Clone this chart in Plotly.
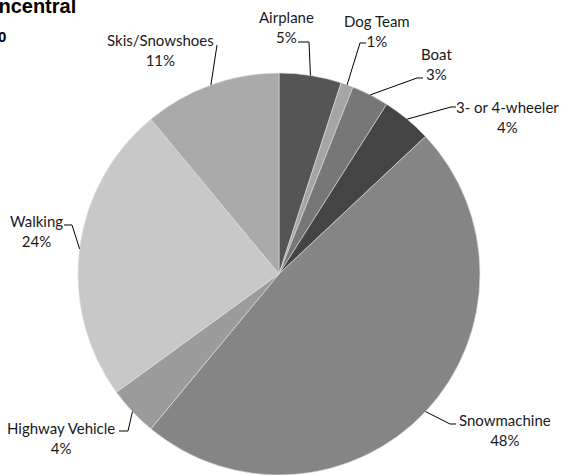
import math
import plotly.graph_objects as go

# ---- data ----
categories = ["Airplane", "Dog Team", "Boat", "3- or 4-wheeler", "Snowmachine",
              "Highway Vehicle", "Walking", "Skis/Snowshoes"]
values = [5, 1, 3, 4, 48, 4, 24, 11]
pct_labels = ["5%", "1%", "3%", "4%", "48%", "4%", "24%", "11%"]
colors = ["#555555", "#a5a5a5", "#777777", "#444444", "#858585",
          "#9b9b9b", "#c8c8c8", "#aaaaaa"]
title_line1 = "Primary Travel Mode, Noncentral"
title_line2 = "2010"

# ---- layout geometry (pixels) ----
W, H = 563, 475
CX, CY, R = 279, 274, 201

# label centres and leader-line elbow points (label side), pixels
label_pos = [(286, 27.5), (377, 31), (436, 64), (507, 117),
             (505, 430), (61, 437.5), (36, 230.5), (160, 49.5)]
elbows = [
    [(309, 42), (298, 42)],
    [(360, 43), (366, 43)],
    [(417, 78), (423, 78)],
    [(451, 107), (456, 107)],
    [(450, 424), (456, 424)],
    [(128, 431), (119, 431)],
    [(72, 225), (64, 225)],
    [(217, 45)],
]


def px(x):
    return x / W


def py(y):
    return 1 - y / H


fig = go.Figure(go.Pie(
    labels=categories,
    values=values,
    sort=False,
    direction="clockwise",
    rotation=0,
    marker=dict(colors=colors, line=dict(color="#e0e0e0", width=0.6)),
    textinfo="none",
    hoverinfo="label+percent",
    domain=dict(x=[px(CX - R), px(CX + R)], y=[py(CY + R), py(CY - R)]),
    showlegend=False,
))

total = sum(values)
shapes = []
annotations = []
cum = 0
font_lbl = dict(family="Lato, Liberation Sans, sans-serif", size=15, color="#1a1a1a")
for i, v in enumerate(values):
    mid = (cum + v / 2) / total * 2 * math.pi
    cum += v
    sx = CX + R * math.sin(mid)
    sy = CY - R * math.cos(mid)
    pts = [(sx, sy)] + elbows[i]
    path = "M " + " L ".join(f"{px(x):.5f},{py(y):.5f}" for x, y in pts)
    shapes.append(dict(type="path", xref="paper", yref="paper", path=path,
                       line=dict(color="#000000", width=1)))
    lx, ly = label_pos[i]
    annotations.append(dict(
        x=px(lx), y=py(ly), xref="paper", yref="paper",
        text=f"{categories[i]}<br>{pct_labels[i]}",
        showarrow=False, xanchor="center", yanchor="middle", align="center",
        font=font_lbl))

annotations.append(dict(
    x=px(78), y=py(6), xref="paper", yref="paper", text=f"<b>{title_line1}</b>",
    showarrow=False, xanchor="right", yanchor="middle",
    font=dict(family="Liberation Sans, Arial, sans-serif", size=20, color="#000000")))
annotations.append(dict(
    x=px(7.5), y=py(37), xref="paper", yref="paper", text=f"<b>{title_line2}</b>",
    showarrow=False, xanchor="right", yanchor="middle",
    font=dict(family="Liberation Sans, Arial, sans-serif", size=15, color="#000000")))

fig.update_layout(
    width=W, height=H,
    margin=dict(l=0, r=0, t=0, b=0),
    paper_bgcolor="white", plot_bgcolor="white",
    shapes=shapes, annotations=annotations,
)

fig.write_html("out.html",
               config={"displayModeBar": False},
               post_script="document.body.style.margin='0';"
                           "document.body.style.overflow='hidden';")
